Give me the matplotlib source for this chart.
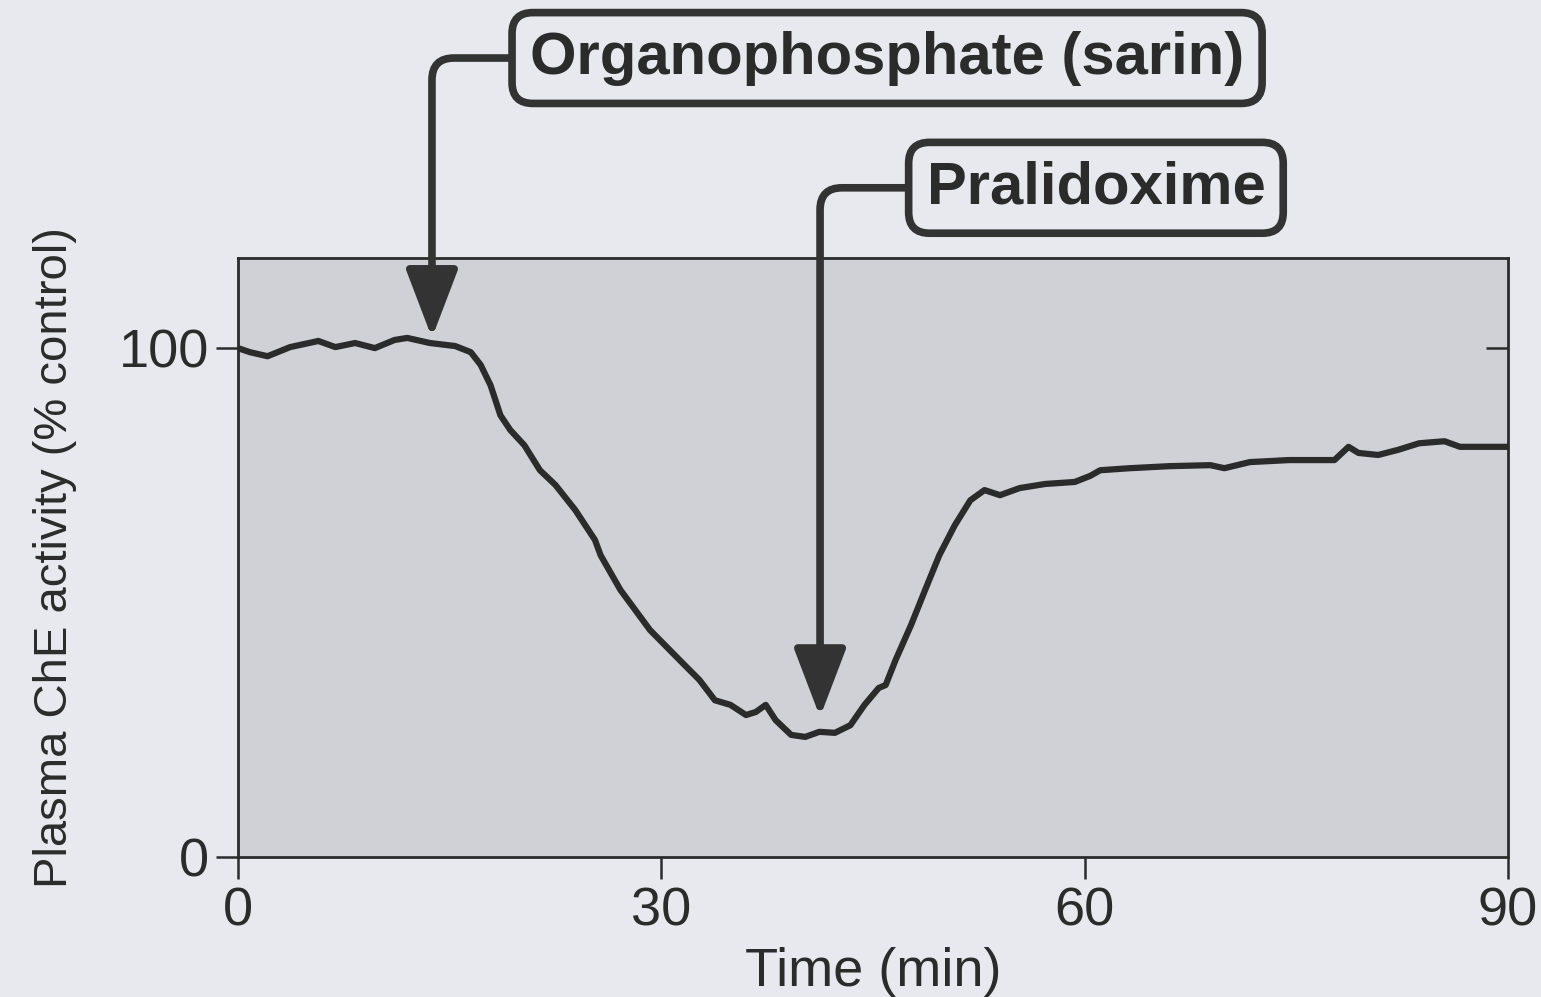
import matplotlib
matplotlib.use("Agg")
import matplotlib.pyplot as plt
from matplotlib.lines import TICKLEFT

# Plasma cholinesterase activity trace
time_min = [0, 0.85, 2.1, 3.7, 5.7, 6.9, 8.3, 9.7, 11.1, 12.0, 13.6, 15.4,
            16.5, 17.2, 17.9, 18.6, 19.3, 20.3, 21.4, 22.5, 23.9, 25.3, 25.7,
            27.1, 29.2, 31.3, 32.7, 33.8, 34.9, 36.0, 36.7, 37.4, 38.1, 39.2,
            40.2, 41.2, 42.3, 43.4, 44.4, 45.4, 45.9, 46.6, 47.7, 48.7, 49.7,
            50.8, 51.9, 52.9, 54.0, 55.4, 57.2, 59.3, 60.4, 61.1, 63.2, 66.0,
            68.9, 69.9, 71.7, 74.5, 76.6, 77.7, 78.7, 79.4, 80.8, 82.2, 83.7,
            85.5, 86.6, 88.0, 90.0]
che_activity = [100, 99.2, 98.4, 100.2, 101.4, 100.2, 101, 100, 101.6, 102,
                101, 100.4, 99.2, 96.7, 92.7, 86.8, 83.9, 80.9, 76, 73.1,
                68.2, 62.3, 59.3, 52.5, 44.6, 38.7, 34.8, 30.8, 29.9, 27.9,
                28.5, 29.9, 26.9, 24, 23.6, 24.6, 24.4, 25.9, 29.9, 33.2,
                33.8, 38.7, 45.6, 52.5, 59.3, 65.2, 70.1, 72.1, 71.1, 72.5,
                73.3, 73.7, 74.9, 76, 76.4, 76.8, 77, 76.4, 77.6, 78, 78, 78,
                80.6, 79.4, 79, 80, 81.3, 81.7, 80.6, 80.6, 80.6]

x_ticks = [0, 30, 60, 90]
y_ticks = [0, 100]

# annotations: label, arrow tip (time, activity), box centre (time, activity)
sarin_label = "Organophosphate (sarin)"
sarin_tip = (13.75, 102.0)
sarin_box = (46.0, 157.0)
pralid_label = "Pralidoxime"
pralid_tip = (41.25, 27.5)
pralid_box = (60.8, 131.5)

bg = "#e7e9ee"
ink = "#2b2b2b"
fonts = ["Liberation Sans", "DejaVu Sans"]
plt.rcParams["font.family"] = fonts

fig = plt.figure(figsize=(15.41, 9.97), dpi=100, facecolor=bg)
ax = fig.add_axes([0.1544, 0.1404, 0.8242, 0.6008])
ax.set_facecolor("#cfd1d6")

ax.plot(time_min, che_activity, color=ink, linewidth=4.5,
        solid_joinstyle="round", solid_capstyle="round")

ax.set_xlim(0, 90)
ax.set_ylim(0, 117.7)
ax.set_xticks(x_ticks)
ax.set_yticks(y_ticks)
for sp in ax.spines.values():
    sp.set_linewidth(2)
    sp.set_color(ink)
ax.tick_params(axis="both", direction="out", length=16, width=1.8,
               labelsize=39, colors=ink, pad=5)
# short inward tick on the right spine at 100
ax.tick_params(axis="y", right=True, labelright=False)
for tk in ax.yaxis.get_major_ticks():
    tk.tick2line.set_marker(TICKLEFT)
    tk.tick2line.set_markersize(16)
ax.yaxis.get_major_ticks()[0].tick2line.set_visible(False)

ax.set_xlabel("Time (min)", fontsize=39, color=ink, labelpad=8)
ax.set_ylabel("Plasma ChE activity (% control)", fontsize=34, color=ink,
              labelpad=30)

for label, tip, box in [(sarin_label, sarin_tip, sarin_box),
                        (pralid_label, pralid_tip, pralid_box)]:
    ax.annotate(
        label, xy=tip, xytext=box, xycoords="data", textcoords="data",
        ha="center", va="center", fontsize=43, fontweight="bold",
        color=ink, annotation_clip=False,
        bbox=dict(boxstyle="round,pad=0.3,rounding_size=0.35",
                  fc=bg, ec="#333333", lw=5.5),
        arrowprops=dict(arrowstyle="-|>,head_length=1.05,head_width=0.4",
                        connectionstyle="angle,angleA=180,angleB=90,rad=22",
                        color="#333333", lw=5.5, shrinkA=0, shrinkB=0,
                        mutation_scale=40),
    )

fig.savefig("out.png", dpi=100, facecolor=bg)
